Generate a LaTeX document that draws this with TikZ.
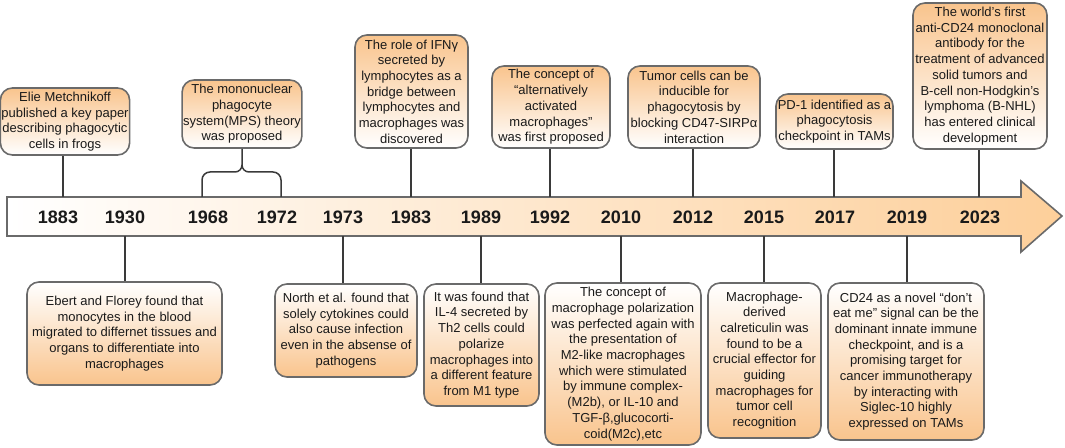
\documentclass[tikz,border=0pt]{standalone}
\usepackage{fontspec}
\setmainfont{Liberation Sans}
\definecolor{peach}{HTML}{F9C48D}
\definecolor{arrowpeach}{HTML}{FDCF9A}
\definecolor{boxgray}{HTML}{6A6A6A}
\definecolor{linegray}{HTML}{3A3A3A}
\definecolor{txt}{HTML}{1A1A1A}
\newcommand{\boxfnt}{\fontsize{13}{15.7}\selectfont}
\newcommand{\yearfnt}{\fontsize{18}{20}\selectfont\bfseries}
\tikzset{
  evbox/.style={draw=boxgray, line width=1.6pt, rounded corners=12pt, align=center,
    inner sep=1pt, font=\boxfnt, text=txt},
  topbox/.style={evbox, top color=peach, bottom color=white},
  botbox/.style={evbox, top color=white, bottom color=peach},
  yr/.style={font=\yearfnt, text=txt},
  conn/.style={draw=linegray, line width=1.5pt},
}
\begin{document}
\begin{tikzpicture}[x=1pt,y=1pt]
\useasboundingbox (0,0) rectangle (1065,447);
% timeline arrow
\path[draw=boxgray, line width=1.6pt, left color=white, right color=arrowpeach]
  (7,250) -- (1021,250) -- (1021,266) -- (1062,231) -- (1021,195) -- (1021,211) -- (7,211) -- cycle;
% years
\foreach \nm/\xx in {1883/58,1930/125,1968/208,1972/277,1973/343,1983/411,1989/481,1992/550,2010/621,2012/693,2015/764,2017/835,2019/907,2023/980}{
  \node[yr] (y\nm) at (\xx,230) {\nm};
}
% top attachment coordinates
\coordinate (a1883) at (63,250);
\coordinate (a1968) at (202,250);
\coordinate (a1972) at (281,250);
\coordinate (a1983) at (411,250);
\coordinate (a1992) at (550,250);
\coordinate (a2012) at (693,250);
\coordinate (a2017) at (834,250);
\coordinate (a2023) at (979,250);
% bottom attachment coordinates
\coordinate (b1930) at (125,211);
\coordinate (b1973) at (343,211);
\coordinate (b1989) at (481,211);
\coordinate (b2010) at (621,211);
\coordinate (b2015) at (764,211);
\coordinate (b2019) at (907,211);
% top boxes
\node[topbox, minimum width=126, minimum height=67] (meta) at (65,325.5)
  {Elie Metchnikoff\\published a key paper\\describing phagocytic\\cells in frogs};
\node[topbox, minimum width=118, minimum height=68] (mps) at (242,333)
  {The mononuclear\\phagocyte\\system(MPS) theory\\was proposed};
\node[topbox, minimum width=113, minimum height=113] (ifn) at (411.5,355.5)
  {The role of IFNγ\\secreted by\\lymphocytes as a\\bridge between\\lymphocytes and\\macrophages was\\discovered};
\node[topbox, minimum width=118, minimum height=82] (alt) at (551,340)
  {The concept of\\“alternatively\\activated\\macrophages”\\was first proposed};
\node[topbox, minimum width=132, minimum height=82] (tum) at (694,340)
  {Tumor cells can be\\inducible for\\phagocytosis by\\blocking CD47-SIRPα\\interaction};
\node[topbox, minimum width=117, minimum height=55] (pd1) at (834.5,325.5)
  {PD-1 identified as a\\phagocytosis\\checkpoint in TAMs};
\node[topbox, minimum width=134, minimum height=146] (cd24) at (980,371)
  {The world's first\\anti-CD24 monoclonal\\antibody for the\\treatment of advanced\\solid tumors and\\B-cell non-Hodgkin's\\lymphoma (B-NHL)\\has entered clinical\\development};
% bottom boxes
\node[botbox, minimum width=195, minimum height=103] (ebert) at (124.5,113.5)
  {Ebert and Florey found that\\monocytes in the blood\\migrated to differnet tissues and\\organs to differentiate into\\macrophages};
\node[botbox, minimum width=142, minimum height=93] (north) at (346,116.5)
  {North et al. found that\\solely cytokines could\\also cause infection\\even in the absense of\\pathogens};
\node[botbox, minimum width=115, minimum height=122] (il4) at (481.5,102)
  {It was found that\\IL-4 secreted by\\Th2 cells could\\polarize\\macrophages into\\a different feature\\from M1 type};
\node[botbox, minimum width=156, minimum height=162] (m2) at (623,83)
  {The concept of\\macrophage polarization\\was perfected again with\\the presentation of\\M2-like macrophages\\which were stimulated\\by immune complex-\\(M2b), or IL-10 and\\TGF-β,glucocorti-\\coid(M2c),etc};
\node[botbox, minimum width=113, minimum height=155] (calr) at (764.5,86.5)
  {Macrophage-\\derived\\calreticulin was\\found to be a\\crucial effector for\\guiding\\macrophages for\\tumor cell\\recognition};
\node[botbox, minimum width=156, minimum height=157] (dem) at (906,85.5)
  {CD24 as a novel “don’t\\eat me” signal can be the\\dominant innate immune\\checkpoint, and is a\\promising target for\\cancer immunotherapy\\by interacting with\\Siglec-10 highly\\expressed on TAMs};
% connectors top
\draw[conn] (a1883) -- (a1883 |- meta.south);
\draw[conn] (a1983) -- (a1983 |- ifn.south);
\draw[conn] (a1992) -- (a1992 |- alt.south);
\draw[conn] (a2012) -- (a2012 |- tum.south);
\draw[conn] (a2017) -- (a2017 |- pd1.south);
\draw[conn] (a2023) -- (a2023 |- cd24.south);
% brace for 1968-1972
\draw[conn] (a1968) -- (202,267) to[out=90,in=180] (210,275) -- (235,275) to[out=0,in=-90] (242,282) -- (mps.south);
\draw[conn] (a1972) -- (281,267) to[out=90,in=0] (273,275) -- (249,275) to[out=180,in=-90] (242,282);
% connectors bottom
\draw[conn] (b1930) -- (b1930 |- ebert.north);
\draw[conn] (b1973) -- (b1973 |- north.north);
\draw[conn] (b1989) -- (b1989 |- il4.north);
\draw[conn] (b2010) -- (b2010 |- m2.north);
\draw[conn] (b2015) -- (b2015 |- calr.north);
\draw[conn] (b2019) -- (b2019 |- dem.north);
\end{tikzpicture}
\end{document}
